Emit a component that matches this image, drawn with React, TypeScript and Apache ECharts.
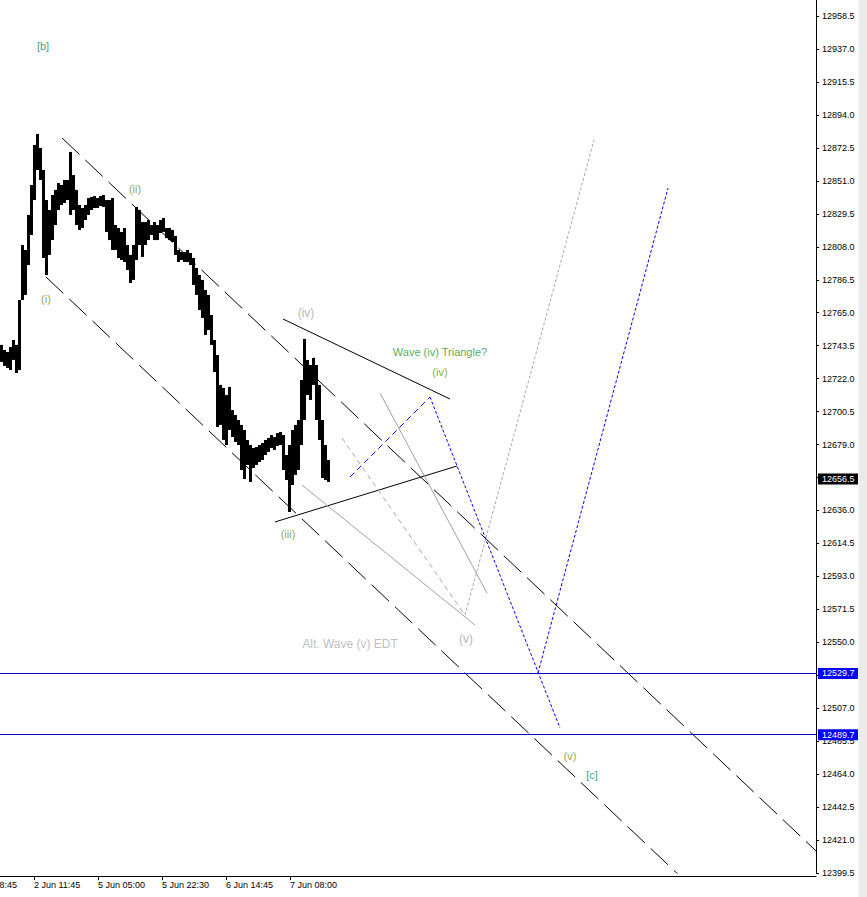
import { useEffect, useRef } from 'react';
import * as echarts from 'echarts';

// ---- axis data ----
const timeLabels = ['1 Jun 18:45', '2 Jun 11:45', '5 Jun 05:00', '5 Jun 22:30', '6 Jun 14:45', '7 Jun 08:00'];
const barsPerLabel = 64;
const totalBars = 847;
const priceBase = 12399.5;
const priceStep = 21.5;
const priceTop = 12969;

// ---- price bars (high / low), one every 3 bars starting at bar 30 ----
const firstBar = 30;
const barStep = 3;
const barHigh = [
  12744.0, 12740.7, 12739.4, 12742.6, 12747.2, 12744.0, 12773.3, 12809.2, 12805.9, 12828.8,
  12848.3, 12874.4, 12881.6, 12872.5, 12858.1, 12838.5, 12832.0, 12841.8, 12845.1, 12849.6,
  12848.3, 12851.6, 12851.6, 12869.9, 12854.8, 12845.1, 12835.3, 12833.3, 12835.3, 12839.8,
  12840.5, 12841.1, 12839.8, 12841.1, 12841.8, 12838.5, 12838.5, 12839.8, 12822.2, 12820.3,
  12817.7, 12820.3, 12809.2, 12802.7, 12809.2, 12834.0, 12832.0, 12824.2, 12824.2, 12825.5,
  12822.2, 12824.2, 12822.2, 12825.5, 12826.8, 12820.3, 12820.3, 12819.0, 12815.1, 12805.9,
  12804.6, 12804.6, 12805.9, 12804.0, 12800.7, 12794.2, 12789.6, 12786.4, 12779.8, 12776.6,
  12763.5, 12747.2, 12737.4, 12717.9, 12715.9, 12711.3, 12716.6, 12701.5, 12698.3, 12695.0,
  12691.8, 12688.5, 12682.0, 12678.7, 12676.8, 12677.4, 12678.7, 12680.0, 12682.0, 12683.3,
  12685.2, 12683.9, 12686.5, 12687.2, 12685.2, 12672.2, 12678.7, 12688.5, 12691.8, 12695.0,
  12721.1, 12747.9, 12734.2, 12730.9, 12735.5, 12730.9, 12717.9, 12695.0, 12678.7, 12668.9,
];
const barLow = [
  12732.9, 12730.3, 12729.0, 12727.6, 12734.2, 12725.7, 12727.6, 12773.3, 12776.6, 12796.1,
  12815.7, 12838.5, 12858.1, 12851.6, 12800.7, 12789.6, 12802.7, 12812.4, 12822.2, 12832.0,
  12835.3, 12836.6, 12838.5, 12828.8, 12832.0, 12822.2, 12819.0, 12820.3, 12825.5, 12828.8,
  12832.0, 12833.3, 12833.3, 12834.6, 12834.0, 12817.7, 12812.4, 12805.9, 12805.9, 12800.7,
  12799.4, 12798.1, 12792.9, 12784.4, 12786.4, 12799.4, 12809.2, 12801.4, 12809.2, 12812.4,
  12815.7, 12812.4, 12812.4, 12817.0, 12817.7, 12813.7, 12812.4, 12811.1, 12802.7, 12798.1,
  12799.4, 12798.1, 12798.1, 12796.1, 12783.1, 12776.6, 12766.8, 12761.6, 12750.5, 12753.7,
  12744.0, 12726.3, 12690.5, 12691.8, 12682.0, 12678.7, 12688.5, 12683.9, 12680.7, 12678.7,
  12662.4, 12656.5, 12665.7, 12654.6, 12663.7, 12665.7, 12667.6, 12668.9, 12672.2, 12674.2,
  12676.8, 12675.5, 12678.1, 12678.7, 12662.4, 12655.9, 12635.0, 12652.6, 12659.2, 12662.4,
  12678.7, 12695.0, 12711.3, 12708.1, 12717.9, 12695.0, 12682.0, 12657.2, 12655.9, 12654.6,
];

// ---- price levels ----
const bidPrice = 12656.5;
const levelPrices = [12529.7, 12489.7];

// ---- trend lines [bar, price] ----
const channelUpper = [[92, 12879.0], [846, 12413.9]];
const channelLower = [[76, 12788.3], [720, 12391.3]];
const triangleUpper = [[313, 12760.9], [480, 12708.7]];
const triangleLower = [[305, 12628.5], [487, 12665.0]];
const blueDashed = [[380, 12657.8], [460, 12710.0]];
const blueDown = [[460, 12710.0], [590, 12494.1]];
const blueUp = [[568, 12530.0], [698, 12846.3]];
const greySolidA = [[332, 12652.6], [505, 12561.3]];
const greySolidB = [[410, 12712.6], [517, 12582.1]];
const greyDashed = [[372, 12683.3], [495, 12567.8]];
const greyDottedUp = [[495, 12567.8], [624, 12877.7]];

// ---- wave labels [bar, price] ----
const labelTexts = ['[b]', '(ii)', '(i)', '(iv)', 'Wave (iv) Triangle?', '(iv)', '(iii)', 'Alt. Wave (v) EDT', '(v)', '(v)', '[c]'];
const labelBars = [73, 165, 76, 336, 470, 470, 318, 380, 496, 600, 622];
const labelPrices = [12939.0, 12845.7, 12773.9, 12764.8, 12739.4, 12726.3, 12620.6, 12548.9, 12552.1, 12475.8, 12463.4];
const labelKinds = ['major', 'minor', 'minor', 'alt', 'note', 'minor', 'minor', 'altNote', 'alt', 'minor', 'major'];

const kindStyle: Record<string, { color: string; size: number }> = {
  major: { color: '#06875a', size: 11 },
  minor: { color: '#6e9410', size: 11 },
  note: { color: '#1e9428', size: 11 },
  alt: { color: '#a4a4a4', size: 12 },
  altNote: { color: '#adadad', size: 12 },
};

const FONT = "'Liberation Sans', Arial, sans-serif";

export default function App() {
  const ref = useRef<HTMLDivElement>(null);
  useEffect(() => {
    if (!ref.current) return;
    const chart = echarts.init(ref.current, undefined, { renderer: 'svg' });
    const categories = Array.from({ length: totalBars }, (_, i) =>
      i % barsPerLabel === 0 && i / barsPerLabel < timeLabels.length ? timeLabels[i / barsPerLabel] : ''
    );
    const showCat = (_i: number, v: string) => v !== '';
    const bars = barHigh.map((h, i) => [firstBar + i * barStep, h, barLow[i]]);

    const line = (data: number[][], color: string, type: any) => ({
      type: 'line',
      data,
      symbol: 'none',
      silent: true,
      z: 2,
      lineStyle: { color, width: 1, type },
    });

    const levelLabel = (bg: string) => ({
      show: true,
      position: 'end',
      distance: 2,
      formatter: (p: any) => Number(p.value).toFixed(1),
      color: '#fff',
      backgroundColor: bg,
      padding: [1, 4, 0, 4],
      lineHeight: 10,
      fontSize: 9,
      fontFamily: FONT,
    });

    chart.setOption({
      animation: false,
      backgroundColor: '#fff',
      grid: { left: -30, right: 51, top: 0, bottom: 24, containLabel: false, outerBoundsMode: 'none' },
      xAxis: {
        type: 'category',
        data: categories,
        boundaryGap: false,
        offset: 3,
        axisLine: { show: true, lineStyle: { color: '#000', width: 1 } },
        axisTick: { show: true, interval: showCat, length: 4, lineStyle: { color: '#000' } },
        axisLabel: { interval: showCat, align: 'left', margin: 4, fontSize: 9, fontFamily: FONT, color: '#000' },
        splitLine: { show: false },
      },
      yAxis: {
        type: 'value',
        position: 'right',
        min: priceBase,
        max: priceTop,
        interval: priceStep,
        scale: true,
        axisLine: { show: true, lineStyle: { color: '#000', width: 1 } },
        axisTick: { show: true, length: 3, lineStyle: { color: '#000' } },
        axisLabel: {
          margin: 6,
          fontSize: 9,
          fontFamily: FONT,
          color: '#000',
          showMaxLabel: false,
          showMinLabel: true,
          formatter: (v: number) => v.toFixed(1),
        },
        splitLine: { show: false },
      },
      graphic: [
        { type: 'rect', left: 858, top: 0, shape: { width: 9, height: 897 }, style: { fill: '#ebebeb' }, z: 100 },
        { type: 'rect', left: 858, top: 0, shape: { width: 1, height: 897 }, style: { fill: '#f6f6f6' }, z: 101 },
      ],
      series: [
        line(channelUpper, '#000', [24, 8]),
        line(channelLower, '#000', [24, 8]),
        line(triangleUpper, '#000', 'solid'),
        line(triangleLower, '#000', 'solid'),
        line(greySolidA, '#a0a0a0', 'solid'),
        line(greySolidB, '#a0a0a0', 'solid'),
        line(greyDashed, '#a8a8a8', [5, 4]),
        line(greyDottedUp, '#a8a8a8', [3, 2]),
        line(blueDashed, '#0000ff', [6, 4]),
        line(blueDown, '#0000ff', [3, 2]),
        line(blueUp, '#0000ff', [3, 2]),
        {
          type: 'custom',
          data: bars,
          encode: { x: 0, y: [1, 2] },
          z: 3,
          silent: true,
          renderItem: (_p: any, api: any) => {
            const x = api.value(0);
            const top = api.coord([x, api.value(1)]);
            const bottom = api.coord([x, api.value(2)]);
            const next = api.coord([x + barStep, api.value(1)]);
            const w = next[0] - top[0];
            return {
              type: 'rect',
              shape: { x: top[0], y: top[1], width: w, height: Math.max(1, bottom[1] - top[1]) },
              style: { fill: '#000' },
            };
          },
          markLine: {
            silent: true,
            symbol: 'none',
            animation: false,
            data: [
              { yAxis: levelPrices[0], lineStyle: { color: '#0000c8', width: 1, type: 'solid' }, label: levelLabel('#0000ff') },
              { yAxis: levelPrices[1], lineStyle: { color: '#0000c8', width: 1, type: 'solid' }, label: levelLabel('#0000ff') },
              { yAxis: bidPrice, lineStyle: { color: 'rgba(0,0,0,0)', width: 1, type: 'solid' }, label: levelLabel('#000000') },
            ],
          },
        },
        {
          type: 'scatter',
          symbolSize: 1,
          itemStyle: { color: 'rgba(0,0,0,0)' },
          silent: true,
          z: 4,
          data: labelTexts.map((t, i) => ({
            name: t,
            value: [labelBars[i], labelPrices[i]],
            label: {
              show: true,
              position: 'inside',
              formatter: '{b}',
              color: kindStyle[labelKinds[i]].color,
              textBorderWidth: 0,
              fontSize: kindStyle[labelKinds[i]].size,
              fontFamily: FONT,
            },
          })),
        },
      ],
    });
    return () => chart.dispose();
  }, []);
  return <div ref={ref} style={{ position: 'fixed', left: 0, top: 0, width: 867, height: 897 }} />;
}
